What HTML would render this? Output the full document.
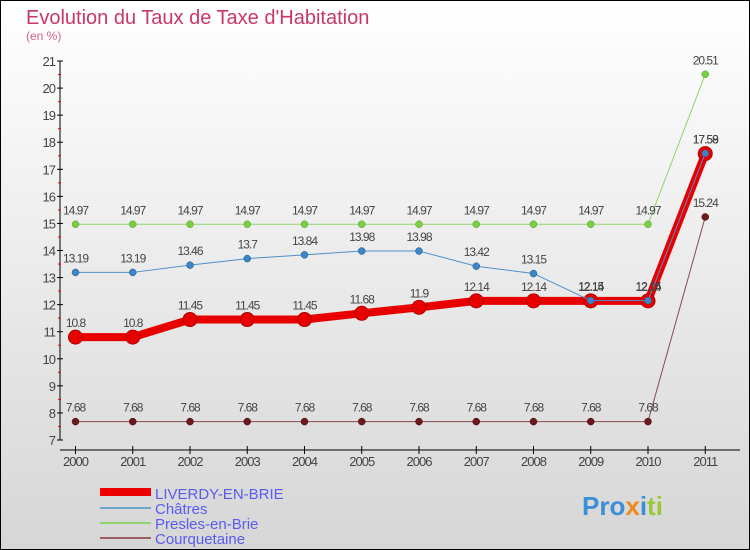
<!DOCTYPE html>
<html><head><meta charset="utf-8"><style>
body{margin:0}
#c{position:relative;width:750px;height:550px;overflow:hidden}
svg text{font-family:"Liberation Sans",sans-serif}
</style></head><body>
<div id="c">
<svg id="s" width="750" height="550" xmlns="http://www.w3.org/2000/svg">
<defs><linearGradient id="bg" x1="0" y1="0" x2="0" y2="1"><stop offset="0" stop-color="#ffffff"/><stop offset="1" stop-color="#d6d6d6"/></linearGradient></defs>
<rect x="0.5" y="0.5" width="749" height="549" fill="url(#bg)" stroke="#000"/>
<text x="26" y="24" font-size="20" fill="#c8376b">Evolution du Taux de Taxe d'Habitation</text>
<text x="26" y="40" font-size="12" fill="#d0608a">(en %)</text>
<g id="axes"></g><g id="series"></g>
<g>
<rect x="100" y="488" width="51" height="8" fill="#e00"/>
<line x1="100" y1="508" x2="151" y2="508" stroke="#6fa5cc" stroke-width="2"/>
<line x1="100" y1="523" x2="151" y2="523" stroke="#8fd46a" stroke-width="2"/>
<line x1="100" y1="538" x2="151" y2="538" stroke="#9a6060" stroke-width="2"/>
<text x="155" y="499" font-size="15" fill="#5b5bef">LIVERDY-EN-BRIE</text>
<text x="155" y="514" font-size="15" fill="#5b5bef">Châtres</text>
<text x="155" y="529" font-size="15" fill="#5b5bef">Presles-en-Brie</text>
<text x="155" y="544" font-size="15" fill="#5b5bef">Courquetaine</text>
</g>
<g>
<text x="582" y="515" font-size="26" font-weight="bold"><tspan fill="#3a8fd8">Pro</tspan><tspan fill="#f08a1c">x</tspan><tspan fill="#3a8fd8">i</tspan><tspan fill="#9ac83a">ti</tspan></text>
</g>
</svg></div>
<script>
const years=[2000,2001,2002,2003,2004,2005,2006,2007,2008,2009,2010,2011];
const liverdy=[10.8,10.8,11.45,11.45,11.45,11.68,11.9,12.14,12.14,12.14,12.14,17.58];
const chatres=[13.19,13.19,13.46,13.7,13.84,13.98,13.98,13.42,13.15,12.15,12.15,17.59];
const presles=[14.97,14.97,14.97,14.97,14.97,14.97,14.97,14.97,14.97,14.97,14.97,20.51];
const courq=[7.68,7.68,7.68,7.68,7.68,7.68,7.68,7.68,7.68,7.68,7.68,15.24];
const yTicks=[7,8,9,10,11,12,13,14,15,16,17,18,19,20,21];
const NS="http://www.w3.org/2000/svg";
const x=i=>75.5+i*57.25;
const y=v=>440-(v-7)*27.07;
function mk(p,t,a){const e=document.createElementNS(NS,t);for(const k in a)e.setAttribute(k,a[k]);p.appendChild(e);return e;}
const ax=document.getElementById('axes');
let e=mk(ax,'line',{x1:60,y1:y(21),x2:60,y2:y(7),stroke:'#000'});


e=mk(ax,'line',{x1:60,y1:450,x2:740,y2:450,stroke:'#000'});


yTicks.forEach((t,i)=>{
 mk(ax,'line',{x1:57,y1:y(t),x2:63,y2:y(t),stroke:'#000'});
 if(i<yTicks.length-1)mk(ax,'line',{x1:58,y1:y(t+0.5),x2:61,y2:y(t+0.5),stroke:'#e00'});
 const tx=mk(ax,'text',{x:55,y:y(t)+5,'font-size':13,fill:'#444','text-anchor':'end','letter-spacing':'-1'});
 tx.textContent=t;
 
 
});
years.forEach((yr,i)=>{
 mk(ax,'line',{x1:x(i),y1:446,x2:x(i),y2:454,stroke:'#000'});
 const tx=mk(ax,'text',{x:x(i),y:466,'font-size':13,fill:'#444','text-anchor':'middle','letter-spacing':'-1'});
 tx.textContent=yr;
 
 
});
const sg=document.getElementById('series');
function series(name,vals,col,w,mcol,r,mstroke,mw){
 const g=mk(sg,'g',{});
 
 
 const pl=mk(g,'polyline',{points:vals.map((v,i)=>x(i)+','+y(v)).join(' '),fill:'none',stroke:col,'stroke-width':w,'stroke-linejoin':'round'});
 
 
 vals.forEach((v,i)=>{
  const c=mk(g,'circle',{cx:x(i),cy:y(v),r:r,fill:mcol,stroke:mstroke,'stroke-width':mw});
  
  
  const t=mk(g,'text',{x:x(i),y:y(v)-10,'font-size':12,fill:'#444','text-anchor':'middle','letter-spacing':'-1'});
  t.textContent=v;
  
  
 });
}
series('courquetaine',courq,'#8a4a4a',1,'#6a1a1a',3.5,'#4a0a0a',0.5);
series('presles',presles,'#8fd46a',1,'#7ccc44',3.5,'#5aa030',0.5);
series('liverdy',liverdy,'#e80000',8,'#e80000',7,'#b00000',1);
series('chatres',chatres,'#4f8fcc',1,'#3d85c6',3.5,'#1e5a8a',0.5);
</script>
</body></html>
